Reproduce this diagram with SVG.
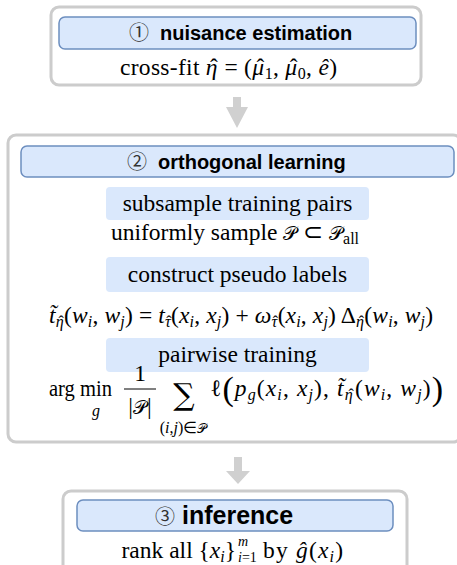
<svg xmlns="http://www.w3.org/2000/svg" width="457" height="565" viewBox="0 0 457 565">
<style>
.outer{fill:#fff;stroke:#cccccc;stroke-width:3}
.hdr{fill:#dae8fc;stroke:#6c8ebf;stroke-width:1.5}
.sub{fill:#dae8fc}
.ht{font-family:'Liberation Sans',Arial,sans-serif;font-size:20px;font-weight:bold;fill:#000}
.num{font-family:'Noto Sans CJK JP','DejaVu Sans',sans-serif;font-weight:normal;font-size:20px;fill:#333}
.m{font-family:'Liberation Serif','Times New Roman',serif;font-size:23.5px;fill:#000}
.i{font-style:italic}
.s{font-size:16px}
.st{font-size:14px}
.big{font-size:34px}
.cal{font-family:'DejaVu Serif','DejaVu Sans','Noto Sans',serif;font-style:normal;font-size:0.8em}
.arrow{fill:#d0d0d0}
</style>
<rect width="457" height="565" fill="#fff"/>
<g id="connectors">
<path class="arrow" d="M233,97 H241 V107 H248 L237,128 L226,107 H233 Z"/>
<path class="arrow" d="M234,457 H242 V471 H250 L238,484 L226,471 H234 Z"/>
</g>
<g id="nuisance-estimation">
<rect class="outer" x="51" y="7" width="370" height="78" rx="8"/>
<rect class="hdr" x="59" y="17" width="357" height="32" rx="6"/>
<text class="ht" y="40"><tspan class="num" x="129">①</tspan><tspan x="160">nuisance estimation</tspan></text>
<text class="m" x="120" y="75" textLength="217" lengthAdjust="spacing">cross-fit <tspan class="i">η</tspan><tspan dx="-7.75">ˆ</tspan><tspan> = (</tspan><tspan class="i">μ</tspan><tspan dx="-7.75">ˆ</tspan><tspan class="s" dy="4">1</tspan><tspan dy="-4">, </tspan><tspan class="i">μ</tspan><tspan dx="-7.75">ˆ</tspan><tspan class="s" dy="4">0</tspan><tspan dy="-4">, </tspan><tspan class="i">ê</tspan>)</text>
</g>
<g id="orthogonal-learning">
<rect class="outer" x="8" y="135" width="453" height="307" rx="8"/>
<rect class="hdr" x="21" y="146" width="433" height="31" rx="6"/>
<text class="ht" y="169"><tspan class="num" x="127">②</tspan><tspan x="158">orthogonal learning</tspan></text>
<g id="subsample">
<rect class="sub" x="106" y="187" width="263" height="33" rx="4"/>
<text class="m" x="237.5" y="211" text-anchor="middle">subsample training pairs</text>
<text class="m" x="235" y="240" text-anchor="middle">uniformly sample <tspan class="cal">𝒫</tspan> ⊂ <tspan class="cal">𝒫</tspan><tspan class="s" dy="4">all</tspan></text>
</g>
<g id="pseudo-labels">
<rect class="sub" x="106" y="257" width="263" height="35" rx="4"/>
<text class="m" x="237.5" y="282" text-anchor="middle">construct pseudo labels</text>
<text class="m" x="49" y="323" textLength="384" lengthAdjust="spacing"><tspan class="i">t̃</tspan><tspan class="s i" dy="4">η</tspan><tspan class="s" dx="-5.15">ˆ</tspan><tspan dy="-4">(</tspan><tspan class="i">w</tspan><tspan class="s i" dy="4">i</tspan><tspan dy="-4">, </tspan><tspan class="i">w</tspan><tspan class="s i" dy="4">j</tspan><tspan dy="-4">) = </tspan><tspan class="i">t</tspan><tspan class="s i" dy="4">τ</tspan><tspan class="s" dx="-4.65">ˆ</tspan><tspan dy="-4" dx="-0.6">(</tspan><tspan class="i">x</tspan><tspan class="s i" dy="4">i</tspan><tspan dy="-4">, </tspan><tspan class="i">x</tspan><tspan class="s i" dy="4">j</tspan><tspan dy="-4">) + </tspan><tspan class="i">ω</tspan><tspan class="s i" dy="4">τ</tspan><tspan class="s" dx="-4.65">ˆ</tspan><tspan dy="-4" dx="-0.6">(</tspan><tspan class="i">x</tspan><tspan class="s i" dy="4">i</tspan><tspan dy="-4">, </tspan><tspan class="i">x</tspan><tspan class="s i" dy="4">j</tspan><tspan dy="-4">) Δ</tspan><tspan class="s i" dy="4">η</tspan><tspan class="s" dx="-5.15">ˆ</tspan><tspan dy="-4">(</tspan><tspan class="i">w</tspan><tspan class="s i" dy="4">i</tspan><tspan dy="-4">, </tspan><tspan class="i">w</tspan><tspan class="s i" dy="4">j</tspan><tspan dy="-4">)</tspan></text>
</g>
<g id="pairwise-training">
<rect class="sub" x="106" y="338" width="263" height="34" rx="4"/>
<text class="m" x="237.5" y="362" text-anchor="middle">pairwise training</text>
<text class="m" x="49" y="396" textLength="63" lengthAdjust="spacingAndGlyphs">arg min</text>
<text class="m i s" x="96" y="416" text-anchor="middle">g</text>
<text class="m" x="140" y="381" text-anchor="middle">1</text>
<line x1="124" y1="389" x2="156" y2="389" stroke="#000" stroke-width="1"/>
<text class="m" x="140" y="414" text-anchor="middle">|<tspan class="cal">𝒫</tspan>|</text>
<text x="184" y="405" font-family="'DejaVu Serif',serif" font-size="30" text-anchor="middle">∑</text>
<text class="m s" x="183" y="433" text-anchor="middle">(<tspan class="i">i</tspan>,<tspan class="i">j</tspan>)∈<tspan class="cal">𝒫</tspan></text>
<text class="m" x="210" y="396" textLength="233" lengthAdjust="spacing">ℓ<tspan class="big" dy="4">(</tspan><tspan class="i" dy="-4">p</tspan><tspan class="s i" dy="4">g</tspan><tspan dy="-4">(</tspan><tspan class="i">x</tspan><tspan class="s i" dy="4">i</tspan><tspan dy="-4">, </tspan><tspan class="i">x</tspan><tspan class="s i" dy="4">j</tspan><tspan dy="-4">), </tspan><tspan class="i">t̃</tspan><tspan class="s i" dy="4">η</tspan><tspan class="s" dx="-5.15">ˆ</tspan><tspan dy="-4">(</tspan><tspan class="i">w</tspan><tspan class="s i" dy="4">i</tspan><tspan dy="-4">, </tspan><tspan class="i">w</tspan><tspan class="s i" dy="4">j</tspan><tspan dy="-4">)</tspan><tspan class="big" dy="4">)</tspan></text>
</g>
</g>
<g id="inference">
<rect class="outer" x="63" y="491" width="344" height="90" rx="8"/>
<rect class="hdr" x="77" y="500" width="316" height="31" rx="6"/>
<text class="ht" y="524"><tspan class="num" x="155">③</tspan><tspan x="182" font-size="25">inference</tspan></text>
<text class="m" x="236" y="558" text-anchor="end">rank all {<tspan class="i">x</tspan><tspan class="s i" dy="4">i</tspan><tspan dy="-4">}</tspan></text>
<text class="m st i" x="238" y="546">m</text>
<text class="m st" x="238" y="562"><tspan class="i">i</tspan>=1</text>
<text class="m" x="263" y="558" textLength="80" lengthAdjust="spacing">by <tspan class="i">ĝ</tspan>(<tspan class="i">x</tspan><tspan class="s i" dy="4">i</tspan><tspan dy="-4">)</tspan></text>
</g>
</svg>
